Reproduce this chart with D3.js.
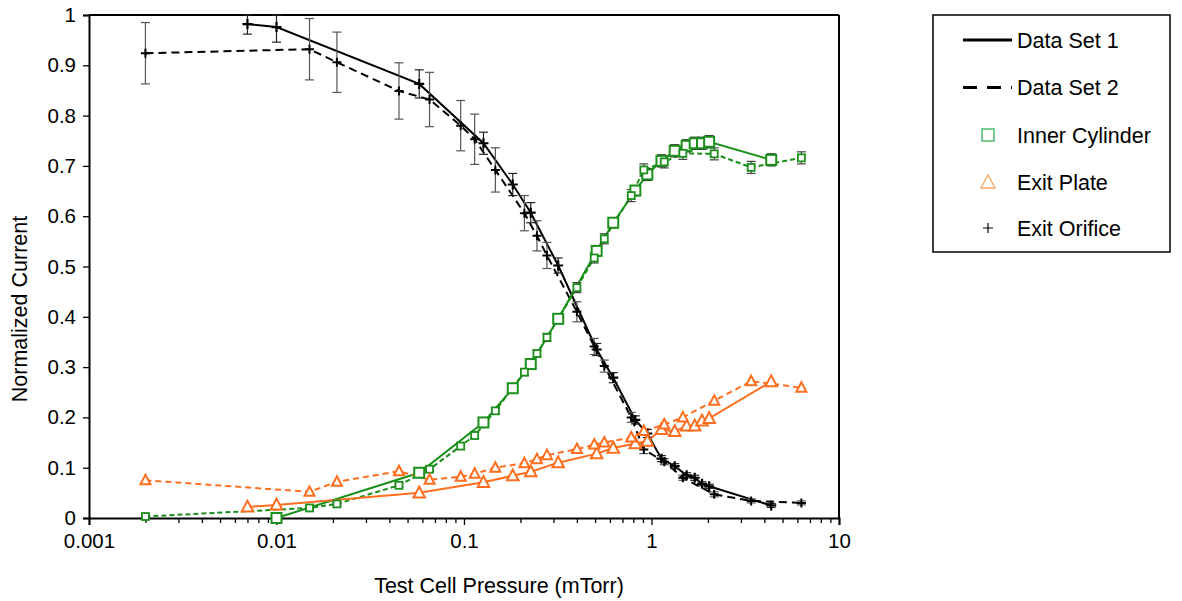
<!DOCTYPE html>
<html>
<head>
<meta charset="utf-8">
<script src="https://cdn.jsdelivr.net/npm/d3@7"></script>
<style>
  body { margin: 0; background: #fff; }
  text { font-family: "Liberation Sans", Arial, sans-serif; }
</style>
</head>
<body>
<div id="canvas"></div>
<script>
// data set 1 (solid lines)
const set1X = [0.007, 0.01, 0.0577, 0.127, 0.182, 0.227, 0.318, 0.51, 0.625, 0.82, 0.95, 1.13, 1.33, 1.54, 1.7, 1.86, 2.03, 4.35];
const set1Inner = [null, 0.0, 0.09, 0.19, 0.258, 0.306, 0.396, 0.531, 0.587, 0.651, 0.683, 0.71, 0.73, 0.74, 0.745, 0.745, 0.748, 0.712];
const set1InnerErr = [0, 0.003, 0.004, 0.006, 0.006, 0.007, 0.008, 0.01, 0.01, 0.01, 0.012, 0.012, 0.012, 0.012, 0.012, 0.012, 0.012, 0.012];
const set1Plate = [0.022, 0.026, 0.05, 0.071, 0.084, 0.092, 0.11, 0.128, 0.139, 0.148, 0.153, 0.176, 0.172, 0.183, 0.183, 0.193, 0.198, 0.271];
const set1Orifice = [0.982, 0.976, 0.863, 0.745, 0.663, 0.607, 0.502, 0.335, 0.279, 0.195, 0.168, 0.118, 0.103, 0.085, 0.08, 0.068, 0.063, 0.025];
const set1OrificeErr = [0.02, 0.03, 0.028, 0.022, 0.022, 0.02, 0.015, 0.012, 0.01, 0.008, 0.008, 0.006, 0.005, 0.005, 0.005, 0.004, 0.004, 0.004];

// data set 2 (dashed lines)
const set2X = [0.002, 0.015, 0.021, 0.045, 0.0655, 0.096, 0.114, 0.147, 0.21, 0.245, 0.277, 0.4, 0.495, 0.56, 0.78, 0.91, 1.17, 1.47, 2.16, 3.4, 6.3];
const set2Inner = [0.003, 0.02, 0.028, 0.065, 0.097, 0.143, 0.164, 0.213, 0.29, 0.327, 0.359, 0.458, 0.517, 0.555, 0.641, 0.692, 0.708, 0.725, 0.724, 0.697, 0.716];
const set2InnerErr = [0.002, 0.003, 0.003, 0.004, 0.005, 0.006, 0.006, 0.006, 0.007, 0.007, 0.008, 0.01, 0.01, 0.01, 0.012, 0.012, 0.012, 0.012, 0.012, 0.012, 0.012];
const set2Plate = [0.075, 0.052, 0.072, 0.093, 0.076, 0.082, 0.088, 0.1, 0.109, 0.117, 0.125, 0.137, 0.146, 0.15, 0.16, 0.173, 0.186, 0.2, 0.233, 0.272, 0.259];
const set2Orifice = [0.924, 0.932, 0.906, 0.849, 0.832, 0.78, 0.753, 0.692, 0.606, 0.561, 0.522, 0.41, 0.341, 0.302, 0.2, 0.136, 0.112, 0.08, 0.047, 0.034, 0.03];
const set2OrificeErr = [0.061, 0.061, 0.06, 0.056, 0.054, 0.05, 0.05, 0.044, 0.035, 0.03, 0.026, 0.02, 0.016, 0.012, 0.01, 0.008, 0.006, 0.005, 0.005, 0.004, 0.004];

const xTicks = [0.001, 0.01, 0.1, 1, 10];
const xTickLabels = ["0.001", "0.01", "0.1", "1", "10"];
const yTicks = [0, 0.1, 0.2, 0.3, 0.4, 0.5, 0.6, 0.7, 0.8, 0.9, 1];
const yTickLabels = ["0", "0.1", "0.2", "0.3", "0.4", "0.5", "0.6", "0.7", "0.8", "0.9", "1"];
const legendLabels = ["Data Set 1", "Data Set 2", "Inner Cylinder", "Exit Plate", "Exit Orifice"];

const green = "#1a8f1a";
const orange = "#ff6e1e";

const width = 1182;
const height = 601;
const margin = { top: 15, left: 89, bottom: 83, right: 343 };
const iwidth = width - margin.left - margin.right;
const iheight = height - margin.top - margin.bottom;

const svg = d3.select("#canvas").append("svg")
  .attr("width", width)
  .attr("height", height);

const g = svg.append("g")
  .attr("transform", `translate(${margin.left},${margin.top})`);

const x = d3.scaleLog().domain([0.001, 10]).range([0, iwidth]);
const y = d3.scaleLinear().domain([0, 1]).range([iheight, 0]);

// minor ticks on log axis
const minor = [];
xTicks.slice(0, -1).forEach((d) => {
  for (let k = 2; k <= 9; k++) minor.push(d * k);
});

g.append("g")
  .attr("transform", `translate(0,${iheight})`)
  .call(d3.axisBottom(x).tickValues(minor).tickSize(5).tickFormat(""))
  .call((a) => a.select(".domain").remove())
  .selectAll("line").attr("stroke", "#000").attr("stroke-width", 1.3);

const xAxis = g.append("g")
  .attr("transform", `translate(0,${iheight})`)
  .call(d3.axisBottom(x).tickValues(xTicks).tickSize(7).tickPadding(8)
    .tickFormat((d, i) => xTickLabels[i]));
xAxis.select(".domain").attr("stroke-width", 2);
xAxis.selectAll("line").attr("stroke-width", 1.3);
xAxis.selectAll("text").attr("font-size", 20.5).attr("fill", "#000")
  .style("font-family", "'Liberation Sans', Arial, sans-serif");

const yAxis = g.append("g")
  .call(d3.axisLeft(y).tickValues(yTicks).tickSize(6).tickPadding(7)
    .tickFormat((d, i) => yTickLabels[i]));
yAxis.select(".domain").attr("stroke-width", 2);
yAxis.selectAll("line").attr("stroke-width", 1.3);
yAxis.selectAll("text").attr("font-size", 20.5).attr("fill", "#000")
  .style("font-family", "'Liberation Sans', Arial, sans-serif");

// frame top/right
g.append("line").attr("x1", 0).attr("x2", iwidth).attr("y1", 0).attr("y2", 0)
  .attr("stroke", "#000").attr("stroke-width", 2);
g.append("line").attr("x1", iwidth).attr("x2", iwidth).attr("y1", 0).attr("y2", iheight)
  .attr("stroke", "#000").attr("stroke-width", 2);

// axis titles
svg.append("text")
  .attr("x", 499).attr("y", 593)
  .attr("text-anchor", "middle").attr("font-size", 21.5)
  .text("Test Cell Pressure (mTorr)");
svg.append("text")
  .attr("transform", "translate(27,309) rotate(-90)")
  .attr("text-anchor", "middle").attr("font-size", 21.5)
  .text("Normalized Current");

const toPts = (xs, ys, es) => xs.map((d, i) => ({ x: d, y: ys[i], e: es ? es[i] : 0 }))
  .filter((d) => d.y !== null);

const line = d3.line().x((d) => x(d.x)).y((d) => y(d.y));

const series = [
  { pts: toPts(set1X, set1Orifice, set1OrificeErr), color: "#000", dash: null, w: 2, mark: "plus", big: true, errColor: "#222" },
  { pts: toPts(set2X, set2Orifice, set2OrificeErr), color: "#000", dash: "8,5", w: 2, mark: "plus", big: false, errColor: "#555" },
  { pts: toPts(set1X, set1Inner, set1InnerErr), color: green, dash: null, w: 2, mark: "square", big: true, errColor: "#222" },
  { pts: toPts(set2X, set2Inner, set2InnerErr), color: green, dash: "5,3", w: 2, mark: "square", big: false, errColor: "#444" },
  { pts: toPts(set1X, set1Plate), color: orange, dash: null, w: 2, mark: "triangle", big: true },
  { pts: toPts(set2X, set2Plate), color: orange, dash: "6,4", w: 2, mark: "triangle", big: false }
];

series.forEach((s) => {
  g.append("path").datum(s.pts)
    .attr("fill", "none").attr("stroke", s.color)
    .attr("stroke-width", s.w)
    .attr("stroke-dasharray", s.dash)
    .attr("d", line);
});

// error bars
series.filter((s) => s.errColor).forEach((s) => {
  const eb = g.append("g").attr("stroke", s.errColor).attr("stroke-width", 1.2);
  s.pts.filter((d) => d.e > 0).forEach((d) => {
    const cx = x(d.x);
    const y0 = y(Math.min(1, d.y + d.e));
    const y1 = y(d.y - d.e);
    eb.append("line").attr("x1", cx).attr("x2", cx).attr("y1", y0).attr("y2", y1);
    eb.append("line").attr("x1", cx - 4.5).attr("x2", cx + 4.5).attr("y1", y0).attr("y2", y0);
    eb.append("line").attr("x1", cx - 4.5).attr("x2", cx + 4.5).attr("y1", y1).attr("y2", y1);
  });
});

const drawMark = (sel, type, big, color) => {
  if (type === "square") {
    const s = big ? 10 : 7;
    sel.append("rect").attr("x", -s / 2).attr("y", -s / 2).attr("width", s).attr("height", s)
      .attr("fill", "#fff").attr("stroke", color).attr("stroke-width", big ? 2 : 1.8);
  } else if (type === "triangle") {
    const s = big ? 11.5 : 10;
    sel.append("path")
      .attr("d", `M0,${-s * 0.55}L${s / 2},${s * 0.4}L${-s / 2},${s * 0.4}Z`)
      .attr("fill", "#fff").attr("stroke", color).attr("stroke-width", 2);
  } else {
    const s = big ? 5 : 4.5;
    sel.append("path").attr("d", `M${-s},0H${s}M0,${-s}V${s}`)
      .attr("stroke", color).attr("stroke-width", big ? 2.2 : 2);
  }
};

series.forEach((s) => {
  s.pts.forEach((d) => {
    const m = g.append("g").attr("transform", `translate(${x(d.x)},${y(d.y)})`);
    drawMark(m, s.mark, s.big, s.color);
  });
});

// legend
const lg = svg.append("g").attr("transform", "translate(933,15)");
lg.append("rect").attr("width", 237).attr("height", 237)
  .attr("fill", "#fff").attr("stroke", "#000").attr("stroke-width", 1.5);

const rowY = [25, 72.5, 120, 167, 213];
lg.append("line").attr("x1", 30).attr("x2", 79).attr("y1", rowY[0]).attr("y2", rowY[0])
  .attr("stroke", "#000").attr("stroke-width", 3);
lg.append("line").attr("x1", 30).attr("x2", 79).attr("y1", rowY[1]).attr("y2", rowY[1])
  .attr("stroke", "#000").attr("stroke-width", 3).attr("stroke-dasharray", "14,10");
lg.append("rect").attr("x", 49).attr("y", rowY[2] - 6).attr("width", 12).attr("height", 12)
  .attr("fill", "none").attr("stroke", "#4cbb6c").attr("stroke-width", 1.5);
lg.append("path").attr("d", `M55,${rowY[3] - 7}L62,${rowY[3] + 6}L48,${rowY[3] + 6}Z`)
  .attr("fill", "none").attr("stroke", "#f7a15c").attr("stroke-width", 1.3);
lg.append("path").attr("d", `M50,${rowY[4]}H60M55,${rowY[4] - 5}V${rowY[4] + 5}`)
  .attr("stroke", "#000").attr("stroke-width", 1.2);

lg.selectAll("text.lab").data(legendLabels).enter().append("text")
  .attr("class", "lab")
  .attr("x", 84).attr("y", (d, i) => rowY[i])
  .attr("dy", "0.35em").attr("font-size", 21.5)
  .text((d) => d);
</script>
</body>
</html>
